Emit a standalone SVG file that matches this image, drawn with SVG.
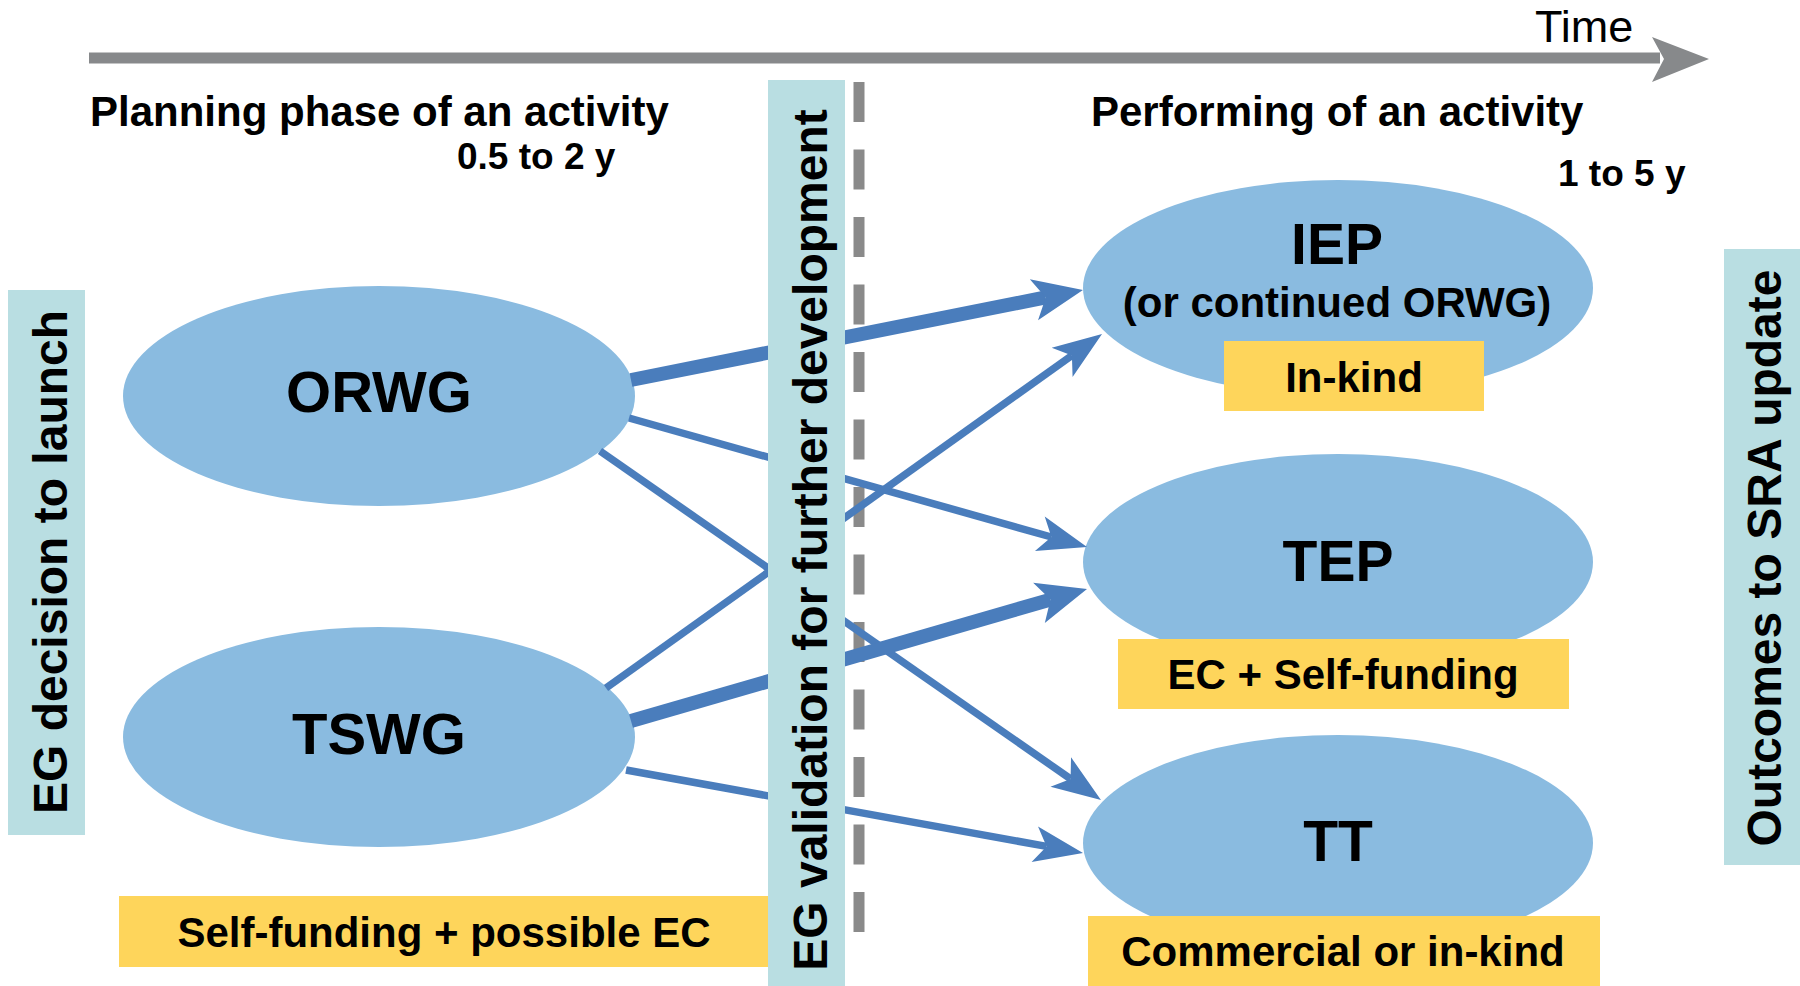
<svg xmlns="http://www.w3.org/2000/svg" width="1800" height="986" viewBox="0 0 1800 986">
<style>
  text { font-family: "Liberation Sans", Arial, sans-serif; fill: #000; }
  .b { font-weight: bold; }
  .ell { fill: #8abbe0; }
  .yel { fill: #fed55b; }
  .teal { fill: #b9dee2; }
  .ln { stroke: #4a7dbc; fill: none; stroke-linecap: butt; }
  .thin { stroke-width: 7.5; }
  .thick { stroke-width: 14; }
</style>
<defs>
  <marker id="ahThin" viewBox="-14 -22 54 44" refX="0" refY="0" markerWidth="54" markerHeight="44" markerUnits="userSpaceOnUse" orient="auto">
    <path d="M-12,-18 L37,0 L-12,18 L0,0 Z" fill="#4a7dbc"/>
  </marker>
  <marker id="ahThick" viewBox="-14 -24 56 48" refX="0" refY="0" markerWidth="56" markerHeight="48" markerUnits="userSpaceOnUse" orient="auto">
    <path d="M-12,-21 L38,0 L-12,21 L0,0 Z" fill="#4a7dbc"/>
  </marker>
</defs>
<rect width="1800" height="986" fill="#fff"/>

<g id="timeline">
  <line x1="89" y1="58" x2="1660" y2="58" stroke="#87898b" stroke-width="11"/>
  <polygon points="1652,37 1709,59 1652,82 1664,59" fill="#87898b"/>
  <text x="1535" y="42" font-size="45">Time</text>
</g>

<g id="headings">
  <text class="b" x="90" y="126" font-size="42">Planning phase of an activity</text>
  <text class="b" x="457" y="169" font-size="37">0.5 to 2 y</text>
  <text class="b" x="1091" y="126" font-size="42">Performing of an activity</text>
  <text class="b" x="1558" y="186" font-size="37">1 to 5 y</text>
</g>

<g id="divider">
  <line x1="859" y1="82" x2="859" y2="935" stroke="#8a8a8a" stroke-width="11" stroke-dasharray="40 27.5"/>
</g>

<g id="left-bar">
  <rect class="teal" x="8" y="290" width="77" height="545"/>
  <text class="b" font-size="48" text-anchor="middle" transform="translate(67,562) rotate(-90)">EG decision to launch</text>
</g>

<g id="node-orwg">
  <ellipse class="ell" cx="379" cy="396" rx="256" ry="110"/>
  <text class="b" x="379" y="412" font-size="58" text-anchor="middle">ORWG</text>
</g>

<g id="node-tswg">
  <ellipse class="ell" cx="379" cy="737" rx="256" ry="110"/>
  <text class="b" x="379" y="754" font-size="58" text-anchor="middle">TSWG</text>
</g>

<g id="funding-left">
  <rect class="yel" x="119" y="896" width="649" height="71"/>
  <text class="b" x="444" y="947" font-size="42" text-anchor="middle">Self-funding + possible EC</text>
</g>

<g id="node-iep">
  <ellipse class="ell" cx="1338" cy="288" rx="255" ry="108"/>
  <text class="b" x="1337" y="264" font-size="57" text-anchor="middle">IEP</text>
  <text class="b" x="1337" y="317" font-size="42" text-anchor="middle">(or continued ORWG)</text>
  <rect class="yel" x="1224" y="341" width="260" height="70"/>
  <text class="b" x="1354" y="392" font-size="42" text-anchor="middle">In-kind</text>
</g>

<g id="node-tep">
  <ellipse class="ell" cx="1338" cy="562" rx="255" ry="108"/>
  <text class="b" x="1338" y="581" font-size="57" text-anchor="middle">TEP</text>
  <rect class="yel" x="1118" y="639" width="451" height="70"/>
  <text class="b" x="1343" y="689" font-size="42" text-anchor="middle">EC + Self-funding</text>
</g>

<g id="node-tt">
  <ellipse class="ell" cx="1338" cy="843" rx="255" ry="108"/>
  <text class="b" x="1338" y="861" font-size="57" text-anchor="middle">TT</text>
  <rect class="yel" x="1088" y="916" width="512" height="70"/>
  <text class="b" x="1343" y="966" font-size="42" text-anchor="middle">Commercial or in-kind</text>
</g>

<g id="connectors">
  <line class="ln thick" x1="631" y1="380" x2="1045.7" y2="297.4" marker-end="url(#ahThick)"/>
  <line class="ln thin" x1="629" y1="418" x2="1051.4" y2="537" marker-end="url(#ahThin)"/>
  <line class="ln thin" x1="600" y1="451" x2="1070.6" y2="778.9" marker-end="url(#ahThin)"/>
  <line class="ln thin" x1="606" y1="688" x2="1071.9" y2="355.5" marker-end="url(#ahThin)"/>
  <line class="ln thick" x1="631" y1="721" x2="1050.5" y2="599.6" marker-end="url(#ahThick)"/>
  <line class="ln thin" x1="626" y1="770" x2="1046.6" y2="846.4" marker-end="url(#ahThin)"/>
</g>

<g id="validation-bar">
  <rect class="teal" x="768" y="80" width="77" height="906"/>
  <text class="b" font-size="48" text-anchor="middle" transform="translate(827,540) rotate(-90)">EG validation for further development</text>
</g>

<g id="right-bar">
  <rect class="teal" x="1724" y="249" width="76" height="616"/>
  <text class="b" font-size="48" text-anchor="middle" transform="translate(1781,558) rotate(-90)">Outcomes to SRA update</text>
</g>
</svg>
